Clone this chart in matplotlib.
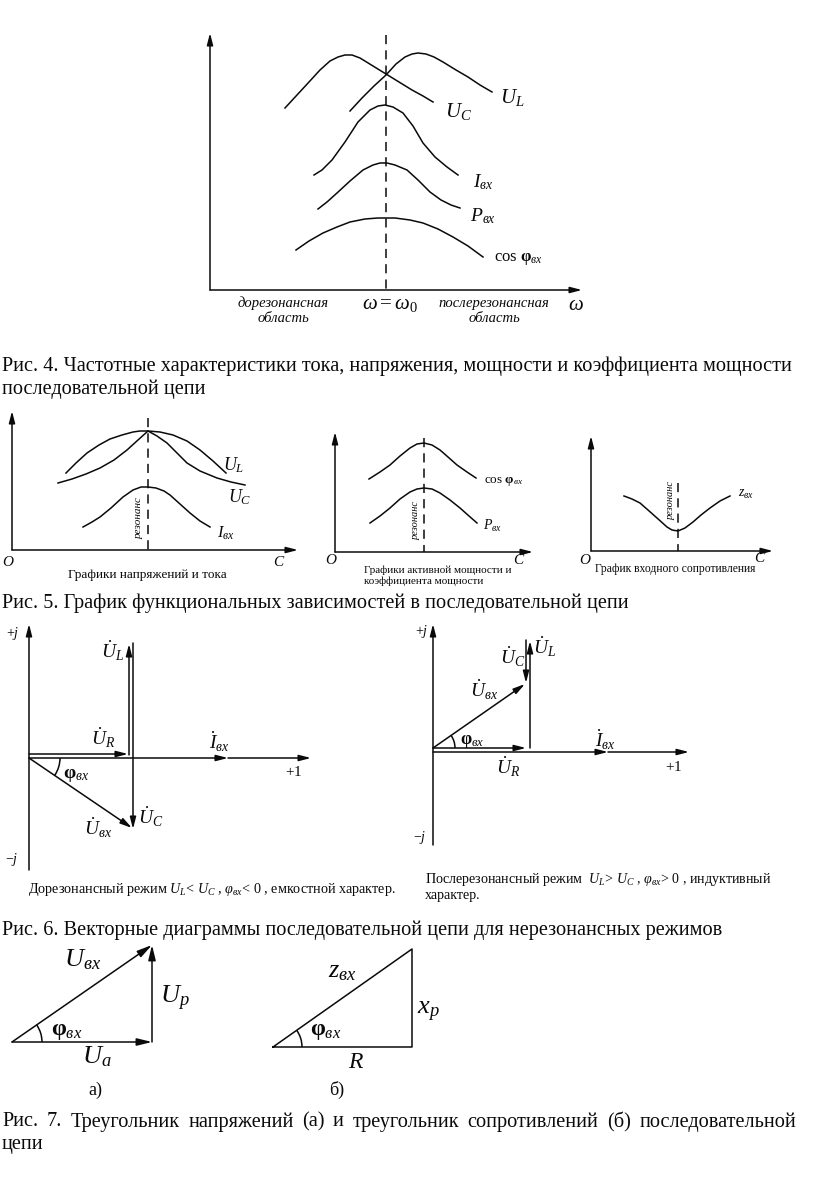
import matplotlib
matplotlib.use('Agg')
import matplotlib.pyplot as plt
from matplotlib.patches import FancyArrowPatch, Arc, ArrowStyle

plt.rcParams['font.family'] = ['Liberation Serif', 'DejaVu Serif']
plt.rcParams['mathtext.fontset'] = 'custom'
plt.rcParams['mathtext.rm'] = 'Liberation Serif'
plt.rcParams['mathtext.it'] = 'Liberation Serif:italic'
plt.rcParams['mathtext.bf'] = 'Liberation Serif:bold'

# ---------------- data (page pixel coordinates) -------------
# Fig. 4 frequency characteristics
f4_UC_x = [285, 297, 309, 320, 330, 338, 345, 352, 360, 373, 386, 399, 412, 423, 433]
f4_UC_y = [108, 95, 82, 70, 61, 57, 55, 55, 58, 66, 74, 82, 90, 96, 102]
f4_UL_x = [350, 362, 374, 386, 396, 405, 412, 418, 426, 434, 443, 456, 468, 480, 492]
f4_UL_y = [111, 98, 86, 75, 64, 57, 54, 53, 54, 57, 62, 70, 77, 85, 92]
f4_I_x = [314, 322, 332, 345, 358, 370, 378, 385, 393, 403, 413, 423, 435, 447, 458]
f4_I_y = [175, 170, 160, 142, 122, 110, 106, 105, 107, 113, 126, 143, 157, 167, 175]
f4_P_x = [318, 327, 337, 350, 363, 373, 380, 387, 395, 407, 418, 430, 441, 451, 460]
f4_P_y = [209, 202, 193, 181, 170, 165, 163, 163, 165, 170, 180, 192, 200, 205, 208]
f4_cos_x = [296, 309, 323, 337, 350, 365, 378, 385, 395, 410, 423, 438, 453, 468, 483]
f4_cos_y = [250, 241, 233, 227, 222, 219, 218, 218, 218, 220, 223, 229, 237, 246, 257]

# Fig. 5 panel 1 (voltages and current vs C)
f5_UL_x = [66, 76, 87, 99, 110, 122, 133, 140, 148, 160, 173, 187, 200, 213, 226]
f5_UL_y = [473, 463, 453, 445, 439, 435, 432, 431, 431, 432, 435, 441, 450, 461, 473]
f5_UC_x = [58, 72, 86, 100, 114, 127, 138, 148, 157, 167, 177, 187, 200, 217, 231, 245]
f5_UC_y = [483, 479, 474, 468, 460, 450, 440, 431, 436, 443, 453, 463, 471, 478, 482, 485]
f5_I_x = [83, 92, 100, 111, 123, 133, 141, 148, 156, 164, 170, 180, 190, 200, 210]
f5_I_y = [527, 522, 517, 508, 497, 490, 487, 487, 488, 491, 495, 504, 513, 521, 527]
# Fig. 5 panel 2 (power and power factor)
f5_cos_x = [369, 380, 390, 400, 410, 417, 424, 432, 440, 448, 457, 467, 476]
f5_cos_y = [479, 472, 465, 456, 448, 444, 443, 445, 450, 457, 465, 472, 478]
f5_P_x = [370, 380, 390, 400, 410, 417, 424, 432, 440, 450, 460, 469, 477]
f5_P_y = [523, 516, 508, 499, 492, 489, 488, 489, 493, 500, 508, 516, 523]
# Fig. 5 panel 3 (input impedance)
f5_z_x = [624, 632, 640, 648, 657, 667, 672, 678, 685, 693, 701, 710, 720, 730]
f5_z_y = [496, 499, 503, 510, 518, 527, 530, 531, 528, 522, 515, 508, 501, 496]

# Fig. 6 phasors: (x0, y0, x1, y1)
f6a_UR = (29, 754, 128, 754)
f6a_UL = (129, 755, 129, 644)
f6a_UC = (133, 643, 133, 829)
f6a_Uex = (29, 758, 132, 828)
f6b_UR = (433, 748, 526, 748)
f6b_UL = (530, 748, 530, 641)
f6b_UC = (526, 640, 526, 683)
f6b_Uex = (433, 748, 525, 684)

# Fig. 7 triangles: (left, base_y, right, top_y)
f7a = (12, 1042, 152, 945)
f7b = (273, 1047, 412, 949)

# ---------------- drawing ----------------
W, H = 816, 1204
fig = plt.figure(figsize=(W / 100, H / 100), dpi=100)
ax = fig.add_axes([0, 0, 1, 1])
ax.set_xlim(0, W)
ax.set_ylim(H, 0)
ax.axis('off')

K = '#0a0a0a'
CAP = 14.6


def curve(xs, ys, lw=1.1):
    ax.plot(xs, ys, color=K, lw=lw, solid_joinstyle='round')


def arrow(x0, y0, x1, y1, hl=7.0, hw=1.8, lw=1.1):
    ax.add_patch(FancyArrowPatch((x0, y0), (x1, y1),
                                 arrowstyle=ArrowStyle('-|>', head_length=hl, head_width=hw),
                                 mutation_scale=1, lw=lw, color=K,
                                 shrinkA=0, shrinkB=0))


def dashed(x, y0, y1):
    ax.plot([x, x], [y0, y1], color=K, lw=1.1, dashes=(6, 4))


def txt(x, y, s, size=12, **kw):
    kw.setdefault('ha', 'center')
    kw.setdefault('va', 'center')
    ax.text(x, y, s, fontsize=size, color=K, **kw)


# ---- Fig. 4 ----
arrow(210, 290, 210, 33)
arrow(210, 290, 582, 290)
dashed(386, 35, 290)
for xs, ys in [(f4_UC_x, f4_UC_y), (f4_UL_x, f4_UL_y), (f4_I_x, f4_I_y),
               (f4_P_x, f4_P_y), (f4_cos_x, f4_cos_y)]:
    curve(xs, ys)
txt(512, 97, r'$U_L$', 15)
txt(458, 111, r'$U_C$', 15)
txt(483, 182, r'$I_{вх}$', 14)
txt(483, 216, r'$P_{вх}$', 14)
txt(518, 259, r'cos $\mathbf{\varphi}_{вх}$', 12)
txt(283, 303, 'дорезонансная', 10.5, style='italic')
txt(283, 318, 'область', 10.5, style='italic')
txt(390, 304, r'$\omega = \omega_0$', 15)
txt(494, 303, 'послерезонансная', 10.5, style='italic')
txt(494, 318, 'область', 10.5, style='italic')
txt(576, 305, r'$\omega$', 15)

txt(2, 366, 'Рис. 4. Частотные характеристики тока, напряжения, мощности и коэффициента мощности',
    CAP, ha='left')
txt(2, 389, 'последовательной цепи', CAP, ha='left')

# ---- Fig. 5 panel 1 ----
arrow(12, 550, 12, 411)
arrow(12, 550, 298, 550)
dashed(148, 418, 550)
curve(f5_UL_x, f5_UL_y)
curve(f5_UC_x, f5_UC_y)
curve(f5_I_x, f5_I_y)
txt(234, 465, r'$U_L$', 13)
txt(240, 497, r'$U_C$', 13)
txt(226, 533, r'$I_{вх}$', 12)
txt(139, 518, 'резонанс', 8, rotation=90, style='italic')
txt(8, 562, 'O', 11, style='italic')
txt(278, 562, 'C', 11, style='italic')
txt(147, 575, 'Графики напряжений и тока', 9.5)

# ---- Fig. 5 panel 2 ----
arrow(335, 552, 335, 432)
arrow(335, 552, 533, 552)
dashed(424, 438, 552)
curve(f5_cos_x, f5_cos_y)
curve(f5_P_x, f5_P_y)
txt(504, 481, r'cos $\mathbf{\varphi}_{вх}$', 9.5)
txt(493, 526, r'$P_{вх}$', 10)
txt(416, 521, 'резонанс', 7.5, rotation=90, style='italic')
txt(331, 561, 'O', 11, style='italic')
txt(518, 560, 'C', 11, style='italic')
txt(364, 570, 'Графики активной мощности и', 8.0, ha='left')
txt(364, 581, 'коэффициента мощности', 8.0, ha='left')

# ---- Fig. 5 panel 3 ----
arrow(591, 551, 591, 436)
arrow(591, 551, 773, 551)
dashed(678, 483, 551)
curve(f5_z_x, f5_z_y)
txt(746, 494, r'$z_{вх}$', 10)
txt(671, 500, 'резонанс', 7.5, rotation=90, style='italic')
txt(585, 560, 'O', 11, style='italic')
txt(759, 559, 'C', 11, style='italic')
txt(675, 569, 'График входного сопротивления', 8.4)

txt(2, 603, 'Рис. 5. График функциональных зависимостей в последовательной цепи',
    CAP, ha='left')

# ---- Fig. 6 left ----
arrow(29, 870, 29, 624)
arrow(29, 758, 228, 758)
arrow(228, 758, 311, 758)
for v in (f6a_UR, f6a_UL, f6a_UC, f6a_Uex):
    arrow(*v)
ax.add_patch(Arc((29, 758), 62, 62, theta1=0, theta2=34, color=K, lw=1.1))
txt(13, 633, r'$+j$', 10)
txt(12, 859, r'$-j$', 10)
txt(294, 772, r'$+1$', 11)
txt(219, 742, r'$\dot{I}_{вх}$', 14)
txt(113, 651, r'$\dot{U}_L$', 14)
txt(103, 738, r'$\dot{U}_R$', 14)
txt(151, 817, r'$\dot{U}_C$', 14)
txt(98, 828, r'$\dot{U}_{вх}$', 14)
txt(76, 775, r'$\mathbf{\varphi}_{вх}$', 14)
txt(28, 890, r'Дорезонансный режим $U_L$< $U_C$ , $\varphi_{вх}$< $0$ , емкостной характер.',
    10.2, ha='left')

# ---- Fig. 6 right ----
arrow(433, 845, 433, 624)
arrow(433, 752, 608, 752)
arrow(608, 752, 689, 752)
for v in (f6b_UR, f6b_UL, f6b_UC, f6b_Uex):
    arrow(*v)
ax.add_patch(Arc((433, 748), 44, 44, theta1=-35, theta2=0, color=K, lw=1.1))
txt(422, 632, r'$+j$', 10)
txt(420, 837, r'$-j$', 10)
txt(674, 767, r'$+1$', 11)
txt(605, 740, r'$\dot{I}_{вх}$', 14)
txt(545, 647, r'$\dot{U}_L$', 14)
txt(513, 657, r'$\dot{U}_C$', 14)
txt(484, 690, r'$\dot{U}_{вх}$', 14)
txt(508, 767, r'$\dot{U}_R$', 14)
txt(472, 742, r'$\mathbf{\varphi}_{вх}$', 13)
txt(425, 880, r'Послерезонансный режим  $U_L$> $U_C$ , $\varphi_{вх}$> $0$ , индуктивный',
    10.1, ha='left')
txt(425, 895, 'характер.', 10.1, ha='left')

txt(2, 930, 'Рис. 6. Векторные диаграммы последовательной цепи для нерезонансных режимов',
    CAP, ha='left')

# ---- Fig. 7 a ----
L, B, R, T = f7a
arrow(L, B, R, B, hl=9, hw=2.2)
arrow(R, B, R, T, hl=9, hw=2.2)
arrow(L, B, R, T, hl=9, hw=2.2)
ax.add_patch(Arc((L, B), 60, 60, theta1=-35, theta2=0, color=K, lw=1.1))
txt(83, 960, r'$U_{вх}$', 19)
txt(175, 998, r'$U_p$', 19)
txt(97, 1057, r'$U_a$', 19)
txt(67, 1032, r'$\mathbf{\varphi}_{вх}$', 17)
txt(95, 1090, 'а)', 13)

# ---- Fig. 7 b ----
L, B, R, T = f7b
ax.plot([L, R, R, L], [B, B, T, B], color=K, lw=1.1)
ax.add_patch(Arc((L, B), 58, 58, theta1=-35, theta2=0, color=K, lw=1.1))
txt(342, 972, r'$z_{вх}$', 19)
txt(428, 1012, r'$x_p$', 19)
txt(356, 1062, r'$R$', 17)
txt(326, 1032, r'$\mathbf{\varphi}_{вх}$', 17)
txt(337, 1090, 'б)', 13)

# Justified caption for Fig. 7
words = 'Рис. 7. Треугольник напряжений (а) и треугольник сопротивлений (б) последовательной'.split()
renderer = fig.canvas.get_renderer()
objs = [ax.text(0, 1122, w_, fontsize=CAP, color=K, ha='left', va='center') for w_ in words]
widths = [o.get_window_extent(renderer=renderer).width for o in objs]
x_left, x_right = 2, 796
gap = (x_right - x_left - sum(widths)) / (len(words) - 1)
xpos = x_left
for o, wd in zip(objs, widths):
    o.set_x(xpos)
    xpos += wd + gap
txt(2, 1145, 'цепи', CAP, ha='left')

fig.savefig('out.png', dpi=100)
